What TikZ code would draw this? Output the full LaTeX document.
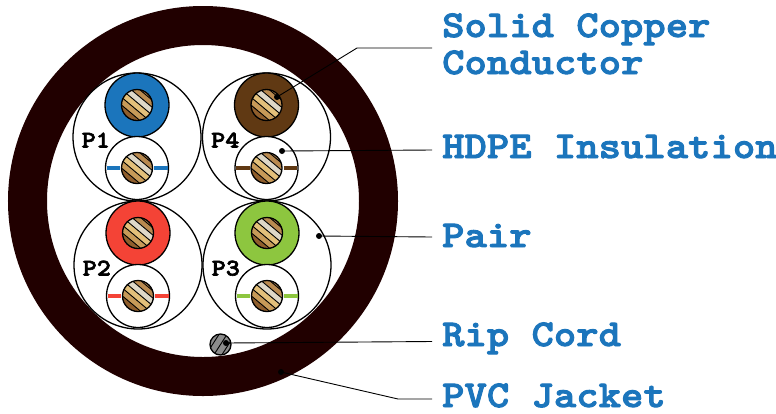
\documentclass[tikz,border=0pt]{standalone}
\usepackage{fontspec}
\newfontfamily\labf[FakeStretch=1.12,LetterSpace=0.3,BoldFeatures={FakeBold=2.5}]{Latin Modern Mono Light}
\usetikzlibrary{calc}
\definecolor{jacket}{HTML}{210000}
\definecolor{lab}{HTML}{1B75BC}
\definecolor{cblue}{HTML}{1B75BC}
\definecolor{cbrown}{HTML}{603913}
\definecolor{cred}{HTML}{F44336}
\definecolor{cgreen}{HTML}{8DC63F}
\definecolor{cuA}{HTML}{B98A50}
\definecolor{cuD}{HTML}{DED8C8}
\definecolor{cuE}{HTML}{E3C07A}
\definecolor{cuF}{HTML}{C79A58}
\definecolor{cuG}{HTML}{8F5E2C}
\tikzset{
  x=1bp,y=-1bp,
  pairc/.style={circle,draw=black,line width=1.3bp,minimum size=128bp,inner sep=0pt,outer sep=0pt},
  ins/.style={circle,draw=black,line width=1.3bp,minimum size=64bp,inner sep=0pt,outer sep=0pt},
  wirec/.style={circle,draw=black,line width=1.3bp,minimum size=63bp,inner sep=0pt,outer sep=0pt,fill=white},
  lbl/.style={anchor=base west,text=lab,font=\labf\bfseries\fontsize{38}{38}\selectfont,inner sep=0pt},
  plab/.style={anchor=base west,font=\labf\bfseries\fontsize{24}{24}\selectfont,inner sep=0pt},
  leader/.style={line width=0.9bp,draw=black},
  dotn/.style={circle,fill=black,inner sep=0pt,minimum size=6bp,outer sep=0pt}
}
\newcommand{\corecu}[1]{%
  \begin{scope}[shift={(#1)}]
    \clip (0,0) circle (15.5);
    \begin{scope}[rotate=-40]
      \fill[cuA] (-20,-20) rectangle (20,-8);
      \fill[cuD] (-20,-8) rectangle (20,-2);
      \fill[cuE] (-20,-2) rectangle (20,4);
      \fill[cuF] (-20,4) rectangle (20,10);
      \fill[cuG] (-20,10) rectangle (20,20);
      \foreach \yy in {-13.5,-8,-2,4,10}{\draw[line width=0.9bp] (-20,\yy) -- (20,\yy);}
    \end{scope}
  \end{scope}
  \draw[line width=1.3bp] (#1) circle (15.5);
}
\newcommand{\cable}[5]{%
  \node[pairc] (pair#1) at (#3,#4) {};
  \node[ins,fill=#2] (ins#1) at (#3,#4-32) {};
  \node[wirec] (wire#1) at (#3,#4+31) {};
  \draw[#2,line width=3.2bp] (#3-30.5,#4+31) -- (#3-17,#4+31);
  \draw[#2,line width=3.2bp] (#3+17,#4+31) -- (#3+30.5,#4+31);
  \corecu{#3,#4-32}
  \corecu{#3,#4+31}
  \node[plab] (lab#1) at (#3-55.5,#4+10.5) {#5};
}
\begin{document}
\begin{tikzpicture}
\useasboundingbox (0,0) rectangle (776,413);
\fill[white] (0,0) rectangle (776,413);
\node[circle,draw=jacket,line width=39bp,minimum size=351bp,inner sep=0pt,outer sep=0pt] (jk) at (203,201) {};
\cable{1}{cblue}{137}{137}{P1}
\cable{4}{cbrown}{266.5}{137}{P4}
\cable{2}{cred}{138}{265}{P2}
\cable{3}{cgreen}{267}{265}{P3}
\begin{scope}
  \clip (220.5,344.5) circle (10.5);
  \fill[black!45] (205,330) rectangle (236,360);
  \foreach \k in {-8,0,8}{\draw[line width=0.9bp] ($(220.5,344.5)+(\k,0)+(-9,14)$) -- ($(220.5,344.5)+(\k,0)+(9,-14)$);}
\end{scope}
\node[circle,draw=black,line width=1.3bp,minimum size=21bp,inner sep=0pt,outer sep=0pt] (rip) at (220.5,344.5) {};
\node[dotn] (d1) at (277,97) {};
\node[dotn] (d2) at (282,151) {};
\node[dotn] (d3) at (319,236) {};
\node[dotn] (d4) at (226,343) {};
\node[dotn] (d5) at (281,372) {};
\coordinate (e1) at (432,48);
\coordinate (e2) at (432,150);
\coordinate (e3) at (432,237);
\coordinate (e4) at (432,341.5);
\coordinate (e5) at (432,399);
\draw[leader] (d1.center) -- (357,48) -- (e1);
\draw[leader] (d2.center) -- (e2);
\draw[leader] (d3.center) -- (e3);
\draw[leader] (d4.center) -- (e4);
\draw[leader] (d5.center) -- (398,399) -- (e5);
\node[lbl] (t1) at (442,37) {Solid Copper};
\node[lbl] (t1b) at (442,74) {Conductor};
\node[lbl] (t2) at (442,158) {HDPE Insulation};
\node[lbl] (t3) at (442,247) {Pair};
\node[lbl] (t4) at (442,346) {Rip Cord};
\node[lbl] (t5) at (442,407) {PVC Jacket};
\end{tikzpicture}
\end{document}
